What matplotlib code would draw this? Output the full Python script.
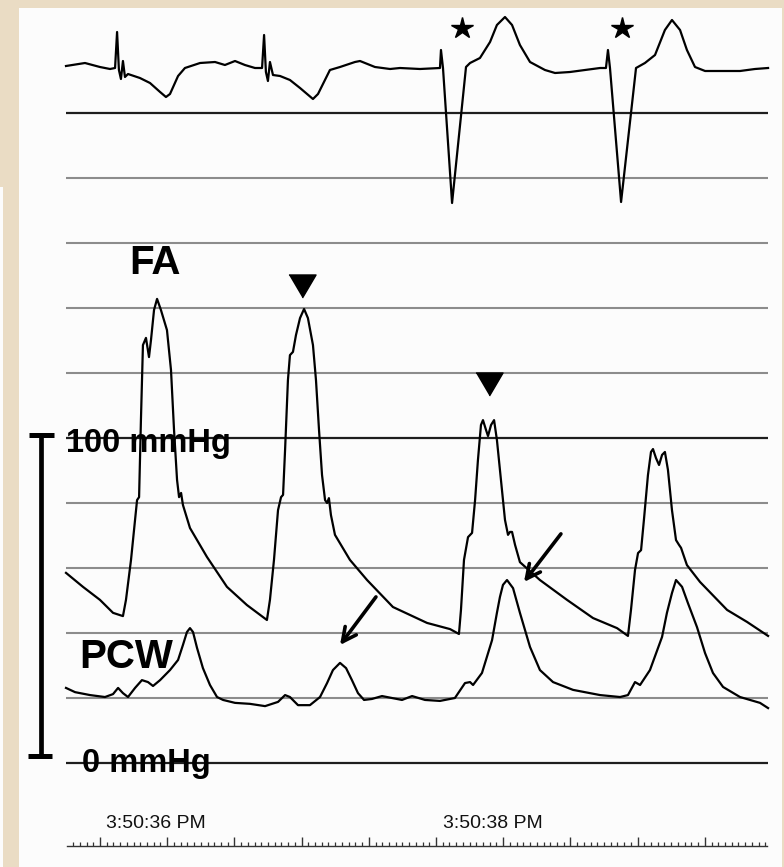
import numpy as np
import matplotlib
matplotlib.use("Agg")
import matplotlib.pyplot as plt
from matplotlib.patches import Rectangle
from matplotlib.ticker import FixedLocator

plt.rcParams['font.family'] = ['Liberation Sans', 'DejaVu Sans']

ecg_t = [0, 0.113, 0.202, 0.262, 0.292, 0.304, 0.315, 0.327, 0.339, 0.351, 0.369,
         0.440, 0.500, 0.560, 0.595, 0.619, 0.667, 0.708, 0.798, 0.887, 0.946,
         1.006, 1.065, 1.125, 1.167, 1.179, 1.190, 1.202, 1.214, 1.232, 1.274,
         1.333, 1.393, 1.470, 1.500, 1.571, 1.631, 1.720, 1.750, 1.839, 1.929,
         1.988, 2.107, 2.226, 2.232, 2.244, 2.298, 2.381, 2.405, 2.464, 2.524,
         2.565, 2.613, 2.655, 2.702, 2.762, 2.851, 2.911, 3.000, 3.089, 3.179,
         3.214, 3.226, 3.238, 3.304, 3.393, 3.446, 3.506, 3.565, 3.607, 3.655,
         3.696, 3.744, 3.804, 3.893, 4.012, 4.101, 4.179]
ecg_mv = [0.02, 0.05, 0.01, -0.01, 0.00, 0.36, -0.02, -0.11, 0.07, -0.09, -0.06,
          -0.10, -0.15, -0.24, -0.29, -0.26, -0.08, 0.00, 0.05, 0.06, 0.03,
          0.07, 0.03, 0.00, 0.00, 0.33, -0.04, -0.13, 0.06, -0.07, -0.08,
          -0.12, -0.20, -0.31, -0.26, -0.02, 0.01, 0.06, 0.07, 0.01, -0.01,
          0.00, -0.01, 0.00, 0.18, 0.00, -1.35, 0.01, 0.05, 0.10, 0.26,
          0.43, 0.51, 0.43, 0.23, 0.06, -0.02, -0.05, -0.04, -0.02, 0.00,
          0.00, 0.18, 0.00, -1.34, 0.00, 0.05, 0.13, 0.38, 0.48, 0.38,
          0.18, 0.01, -0.03, -0.03, -0.03, -0.01, 0.00]

fa_t = [0, 0.101, 0.202, 0.280, 0.339, 0.357, 0.387, 0.411, 0.423, 0.435, 0.446,
        0.458, 0.476, 0.494, 0.506, 0.524, 0.542, 0.565, 0.601, 0.625, 0.643,
        0.661, 0.673, 0.685, 0.696, 0.738, 0.839, 0.958, 1.077, 1.196, 1.214,
        1.238, 1.262, 1.280, 1.292, 1.304, 1.321, 1.333, 1.351, 1.369, 1.393,
        1.417, 1.440, 1.470, 1.488, 1.506, 1.524, 1.542, 1.554, 1.565, 1.577,
        1.601, 1.690, 1.792, 1.946, 2.149, 2.286, 2.339, 2.351, 2.369, 2.393,
        2.417, 2.435, 2.452, 2.470, 2.482, 2.500, 2.512, 2.530, 2.548, 2.565,
        2.589, 2.613, 2.631, 2.643, 2.655, 2.673, 2.702, 2.821, 2.982, 3.137,
        3.280, 3.345, 3.363, 3.387, 3.405, 3.423, 3.440, 3.464, 3.482, 3.494,
        3.512, 3.530, 3.548, 3.565, 3.583, 3.607, 3.631, 3.649, 3.661, 3.696,
        3.774, 3.935, 4.054, 4.179]
fa_mmhg = [58.5, 54.2, 50.2, 46.2, 45.2, 50.2, 62.5, 74.8, 80.9, 81.8, 105.5,
           128.6, 130.8, 124.9, 130.2, 139.4, 142.8, 139.4, 133.2, 120.9, 102.5,
           87.1, 81.8, 83.1, 79.4, 72.3, 63.4, 54.2, 48.6, 44.0, 50.2,
           62.5, 77.8, 81.8, 82.5, 96.3, 117.8, 125.5, 126.5, 131.7, 136.9,
           139.7, 136.9, 128.6, 117.8, 102.5, 88.6, 80.9, 80.0, 81.5, 76.3,
           70.2, 62.5, 56.3, 48.0, 43.1, 41.2, 39.7, 47.1, 62.5, 69.5,
           70.8, 80.9, 93.2, 104.0, 105.5, 102.5, 100.6, 104.0, 105.5, 99.4,
           87.1, 74.8, 70.2, 71.1, 71.1, 67.1, 61.8, 56.3, 50.2, 44.6,
           41.5, 39.1, 47.1, 59.4, 64.6, 65.5, 74.8, 88.6, 95.7, 96.6,
           93.8, 91.7, 94.8, 95.7, 90.2, 77.8, 68.6, 67.1, 66.2, 60.9,
           55.7, 47.1, 43.4, 39.1]

pcw_t = [0, 0.054, 0.143, 0.232, 0.280, 0.310, 0.339, 0.369, 0.411, 0.452, 0.488,
         0.518, 0.560, 0.619, 0.667, 0.696, 0.720, 0.738, 0.756, 0.780, 0.815,
         0.857, 0.899, 0.935, 1.006, 1.095, 1.185, 1.262, 1.304, 1.333, 1.381,
         1.452, 1.512, 1.554, 1.589, 1.631, 1.667, 1.702, 1.738, 1.774, 1.821,
         1.881, 1.940, 2.000, 2.060, 2.137, 2.226, 2.315, 2.375, 2.405, 2.423,
         2.476, 2.536, 2.565, 2.583, 2.601, 2.625, 2.661, 2.702, 2.762, 2.821,
         2.899, 3.018, 3.179, 3.298, 3.345, 3.387, 3.417, 3.476, 3.548, 3.577,
         3.607, 3.631, 3.667, 3.702, 3.756, 3.804, 3.851, 3.911, 4.012, 4.131,
         4.179]
pcw_mmhg = [23.1, 21.8, 20.9, 20.3, 21.2, 23.1, 21.5, 20.3, 23.1, 25.5, 24.9,
            23.7, 25.5, 28.6, 31.7, 36.3, 40.3, 41.5, 40.3, 35.4, 29.2,
            24.0, 20.3, 19.4, 18.5, 18.2, 17.5, 18.8, 20.9, 20.3, 17.8,
            17.8, 20.3, 24.6, 28.6, 30.8, 29.2, 25.5, 21.5, 19.4, 19.7,
            20.6, 20.0, 19.4, 20.6, 19.4, 19.1, 20.0, 24.6, 24.9, 24.0,
            27.7, 37.8, 46.2, 51.1, 54.8, 56.3, 53.8, 46.2, 35.7, 28.6,
            24.9, 22.5, 20.9, 20.3, 20.9, 24.9, 24.0, 28.6, 38.8, 46.2,
            52.3, 56.3, 54.2, 49.2, 41.8, 33.8, 27.7, 23.4, 20.3, 18.5,
            16.9]

griglia_mmhg = np.arange(0, 201, 20)
etichette_ora = ["3:50:36 PM", "3:50:38 PM"]
ora_t = [0.238, 2.244]

# --- figura ---
W, H = 784, 867
beige = "#eadcc4"
fig = plt.figure(figsize=(W / 100, H / 100), dpi=100, facecolor=beige)
fig.patches.append(Rectangle((19 / W, 0), (782 - 19) / W, 1 - 8 / H,
                             transform=fig.transFigure, facecolor="#fcfcfc",
                             edgecolor="none", zorder=-2))
fig.patches.append(Rectangle((0, 0), 3 / W, 1 - 187 / H,
                             transform=fig.transFigure, facecolor="#fcfcfc",
                             edgecolor="none", zorder=-2))

ax = fig.add_axes([0, 0, 1, 1])
ax.set_axis_off()
ax.patch.set_alpha(0)
ax.set_xlim(-66 / 168, 718 / 168)
ax.set_ylim((763 - 867) / 3.25, 763 / 3.25)

for g in griglia_mmhg:
    if g % 100 == 0:
        ax.hlines(g, 0, 4.179, color="#1e1e1e", lw=1.6, zorder=1)
    else:
        ax.hlines(g, 0, 4.179, color="#8c8c8c", lw=1.5, zorder=1)

ax.plot(fa_t, fa_mmhg, color="black", lw=1.6, zorder=3)
ax.plot(pcw_t, pcw_mmhg, color="black", lw=1.6, zorder=3)

# barra di scala 0-100 mmHg
ax.plot([-0.149, -0.149], [1.8, 100.9], color="black", lw=3.4, solid_capstyle="butt")
ax.plot([-0.220, -0.071], [100.9, 100.9], color="black", lw=3.6, solid_capstyle="butt")
ax.plot([-0.226, -0.083], [2.2, 2.2], color="black", lw=3.6, solid_capstyle="butt")

ax.text(0.375, 150.5, "FA", fontsize=29, fontweight="bold", ha="left", va="baseline")
ax.text(0.076, 29.2, "PCW", fontsize=29, fontweight="bold", ha="left", va="baseline")
ax.text(0.0, 95.7, "100 mmHg", fontsize=23.5, fontweight="bold", ha="left", va="baseline")
ax.text(0.095, -2.8, "0 mmHg", fontsize=23.5, fontweight="bold", ha="left", va="baseline")

for tt, lab in zip(ora_t, etichette_ora):
    ax.text(tt, -20, lab, fontsize=14, ha="left", va="baseline", color="#111111")

# triangoli sui picchi
tri = [(-1, 0.85), (1, 0.85), (0, -0.85)]
ax.plot([1.405, 2.518], [146.9, 116.5], linestyle="none", marker=tri,
        markersize=19.5, color="black", zorder=4)

# frecce verso le onde PCW
frecce = [((1.631, 36.3), (1.845, 51.1)), ((2.726, 55.7), (2.946, 70.5))]
for punta, coda in frecce:
    ax.annotate("", xy=punta, xytext=coda,
                arrowprops=dict(arrowstyle="->,head_length=1.0,head_width=0.5",
                                lw=2.6, color="black", shrinkA=0, shrinkB=0))

# ECG
ax_ecg = fig.add_axes([0, 0, 1, 1], sharex=ax)
ax_ecg.set_axis_off()
ax_ecg.patch.set_alpha(0)
ax_ecg.set_ylim((68 - 867) / 100, 68 / 100)
ax_ecg.plot(ecg_t, ecg_mv, color="black", lw=1.6)
ax_ecg.plot([2.357, 3.310], [0.40, 0.40], linestyle="none", marker="*",
            markersize=16, color="black")

# righello del tempo
axr = fig.add_axes([67 / W, 1 - 846 / H, 700 / W, 0.02])
axr.patch.set_alpha(0)
for s in ["top", "left", "right"]:
    axr.spines[s].set_visible(False)
axr.spines["bottom"].set_color("#333333")
axr.spines["bottom"].set_linewidth(1.0)
axr.set_xlim(1 / 168, 701 / 168)
axr.set_yticks([])
axr.xaxis.set_major_locator(FixedLocator(np.arange(0.2024, 4.18, 0.4)))
axr.xaxis.set_minor_locator(FixedLocator(np.arange(0.0024, 4.18, 0.04)))
axr.tick_params(axis="x", which="major", direction="in", length=6.5, width=1.0,
                color="#333333", labelbottom=False)
axr.tick_params(axis="x", which="minor", direction="in", length=2.8, width=0.9,
                color="#333333")

fig.savefig("out.png", dpi=100, facecolor=beige)
